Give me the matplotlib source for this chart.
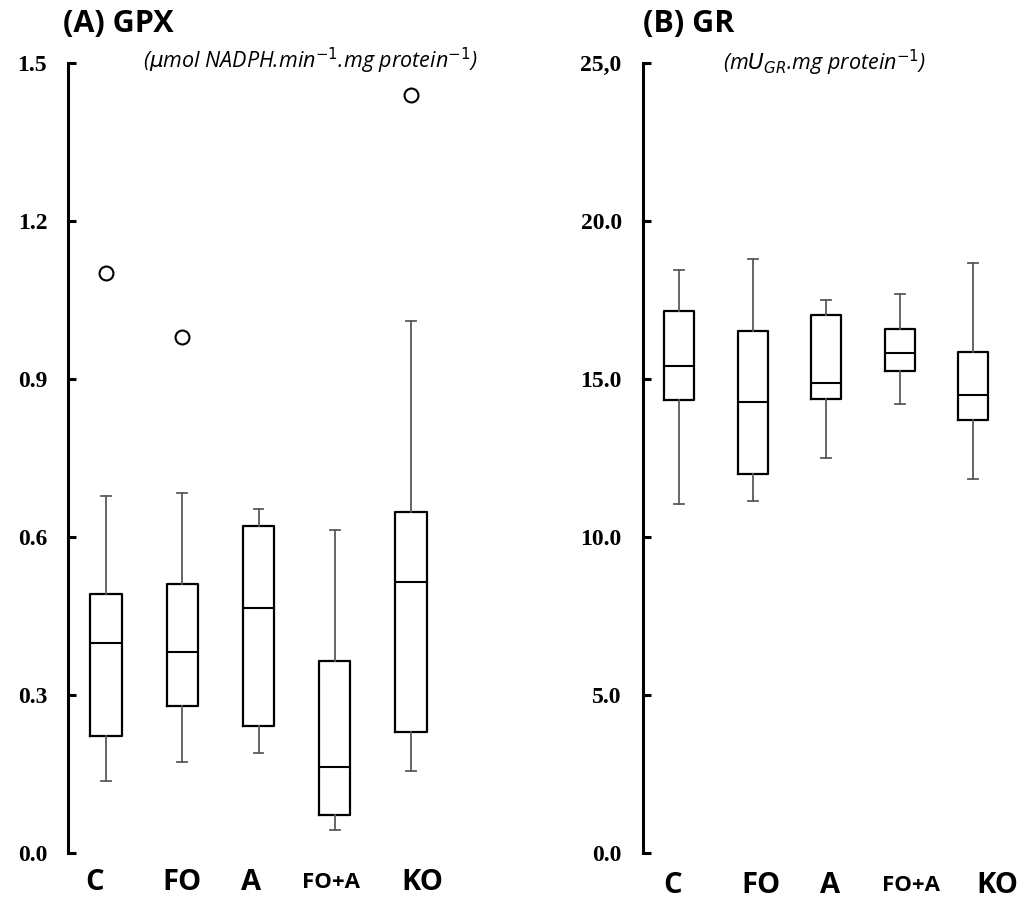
import matplotlib
matplotlib.use('Agg')
import matplotlib.pyplot as plt
from matplotlib.transforms import ScaledTranslation

groups = ['C', 'FO', 'A', 'FO+A', 'KO']

# Panel A: GPX
gpx_whislo = [0.137, 0.172, 0.190, 0.044, 0.155]
gpx_q1 = [0.222, 0.280, 0.242, 0.072, 0.229]
gpx_med = [0.398, 0.382, 0.466, 0.163, 0.515]
gpx_q3 = [0.492, 0.511, 0.620, 0.365, 0.647]
gpx_whishi = [0.677, 0.683, 0.653, 0.614, 1.010]
gpx_fliers = [[1.101], [0.980], [], [], [1.439]]
gpx_ticks = [0.0, 0.3, 0.6, 0.9, 1.2, 1.5]
gpx_ticklabels = ['0.0', '0.3', '0.6', '0.9', '1.2', '1.5']

# Panel B: GR
gr_whislo = [11.05, 11.13, 12.51, 14.20, 11.83]
gr_q1 = [14.32, 11.98, 14.36, 15.24, 13.69]
gr_med = [15.41, 14.26, 14.86, 15.81, 14.49]
gr_q3 = [17.16, 16.51, 17.04, 16.59, 15.84]
gr_whishi = [18.45, 18.81, 17.49, 17.70, 18.68]
gr_fliers = [[], [], [], [], []]
gr_ticks = [0.0, 5.0, 10.0, 15.0, 20.0, 25.0]
gr_ticklabels = ['0.0', '5.0', '10.0', '15.0', '20.0', '25,0']

W, H = 1024, 905
fig = plt.figure(figsize=(W / 100, H / 100), dpi=100)

def make_stats(lo, q1, med, q3, hi, fl):
    return [dict(whislo=a, q1=b, med=c, q3=d, whishi=e, fliers=f, label=g)
            for a, b, c, d, e, f, g in zip(lo, q1, med, q3, hi, fl, groups)]

def panel(rect, stats, ylim, ticks, ticklabels, label_dx, xpad):
    ax = fig.add_axes(rect)
    ax.bxp(stats, positions=range(1, 6), widths=0.41, capwidths=0.13,
           boxprops=dict(color='black', linewidth=1.6),
           medianprops=dict(color='black', linewidth=1.5),
           whiskerprops=dict(color='#5a5a5a', linewidth=1.3),
           capprops=dict(color='#5a5a5a', linewidth=1.3),
           flierprops=dict(marker='o', markerfacecolor='white', markeredgecolor='black',
                           markersize=10, markeredgewidth=1.5, linestyle='none'))
    ax.set_xlim(0.5, 5.5)
    ax.set_ylim(*ylim)
    for s in ['top', 'right', 'bottom']:
        ax.spines[s].set_visible(False)
    ax.spines['left'].set_linewidth(2.2)
    ax.set_yticks(ticks)
    ax.set_yticklabels(ticklabels, family='Liberation Serif', fontweight='bold', fontsize=17)
    ax.tick_params(axis='y', direction='in', length=6, width=2.2, pad=15)
    ax.tick_params(axis='x', length=0, pad=xpad)
    ax.set_xticks(range(1, 6))
    ax.set_xticklabels(groups, family='Open Sans', fontweight='bold', fontsize=21)
    labels = ax.get_xticklabels()
    labels[3].set_fontsize(16)
    label_dy = [0, 0, 0, -4, 0]
    for lab, dx, dy in zip(labels, label_dx, label_dy):
        lab.set_transform(lab.get_transform() +
                          ScaledTranslation(dx / 100, dy / 100, fig.dpi_scale_trans))
    return ax

bottom = 1 - 853 / H
height = (853 - 63) / H
axA = panel([68 / W, bottom, 381 / W, height],
            make_stats(gpx_whislo, gpx_q1, gpx_med, gpx_q3, gpx_whishi, gpx_fliers),
            (0, 1.5), gpx_ticks, gpx_ticklabels, [-12, 0, -7, -4, 11], 11)
axB = panel([642.5 / W, bottom, 367.5 / W, height],
            make_stats(gr_whislo, gr_q1, gr_med, gr_q3, gr_whishi, gr_fliers),
            (0, 25), gr_ticks, gr_ticklabels, [-7, 8, 4, 11, 24], 13)

fig.text(63 / W, 1 - 24 / H, '(A) GPX', family='Open Sans', fontweight='bold',
         fontsize=22, va='center', ha='left')
fig.text(643 / W, 1 - 24 / H, '(B) GR', family='Open Sans', fontweight='bold',
         fontsize=22, va='center', ha='left')
fig.text(143 / W, 1 - 61 / H, r'($\mu$mol NADPH.min$^{-1}$.mg protein$^{-1}$)',
         family='Open Sans', style='italic', fontsize=15.5, va='center', ha='left')
fig.text(723 / W, 1 - 63 / H, r'(m$U_{GR}$.mg protein$^{-1}$)',
         family='Open Sans', style='italic', fontsize=15.5, va='center', ha='left')

fig.savefig('out.png', dpi=100)
